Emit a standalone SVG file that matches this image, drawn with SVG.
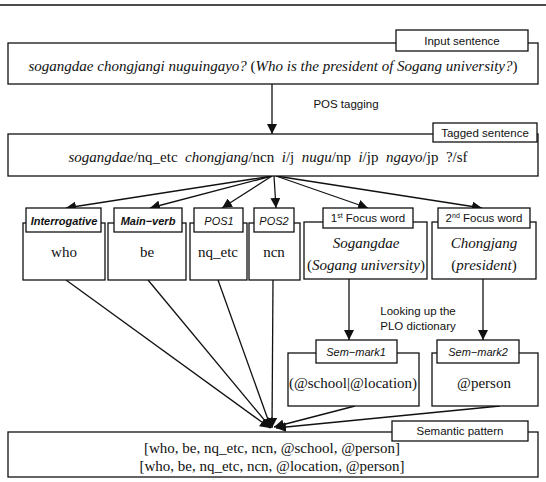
<svg xmlns="http://www.w3.org/2000/svg" width="546" height="482" viewBox="0 0 546 482">
<style>
.box{fill:#fff;stroke:#111;stroke-width:1.3}
.tab{fill:#fff;stroke:#111;stroke-width:1.3}
.ln{stroke:#111;stroke-width:1.3;fill:none}
.lab{font-family:"Liberation Sans",Arial,sans-serif;font-size:11.5px;fill:#111;text-anchor:middle}
.labi{font-family:"Liberation Sans",Arial,sans-serif;font-size:11px;font-style:italic;fill:#111;text-anchor:middle}
.b{font-weight:bold}
.ser{font-family:"Liberation Serif","Times New Roman",serif;font-size:15px;fill:#111;text-anchor:middle}
.it{font-style:italic}
.note{font-family:"Liberation Sans",Arial,sans-serif;font-size:11.5px;fill:#111;text-anchor:middle}
</style>
<defs>
<marker id="ah" viewBox="0 0 10 10" refX="10" refY="5" markerWidth="10" markerHeight="10" markerUnits="userSpaceOnUse" orient="auto">
<path d="M0,0 L10,5 L0,10 z" fill="#111"/>
</marker>
</defs>
<line x1="0" y1="5" x2="546" y2="5" stroke="#111" stroke-width="1.5"/>

<g id="connectors">
<line class="ln" x1="272" y1="84" x2="272" y2="134" marker-end="url(#ah)"/>
<line class="ln" x1="272" y1="176" x2="66" y2="208" marker-end="url(#ah)"/>
<line class="ln" x1="272" y1="176" x2="150" y2="208" marker-end="url(#ah)"/>
<line class="ln" x1="272" y1="176" x2="222" y2="208" marker-end="url(#ah)"/>
<line class="ln" x1="274" y1="176" x2="276" y2="208" marker-end="url(#ah)"/>
<line class="ln" x1="276" y1="176" x2="368" y2="208" marker-end="url(#ah)"/>
<line class="ln" x1="276" y1="176" x2="482" y2="208" marker-end="url(#ah)"/>
<line class="ln" x1="349" y1="279" x2="349" y2="340" marker-end="url(#ah)"/>
<line class="ln" x1="483" y1="279" x2="483" y2="340" marker-end="url(#ah)"/>
<line class="ln" x1="66" y1="280" x2="270" y2="428" marker-end="url(#ah)"/>
<line class="ln" x1="148" y1="280" x2="271" y2="428" marker-end="url(#ah)"/>
<line class="ln" x1="218" y1="280" x2="271" y2="428" marker-end="url(#ah)"/>
<line class="ln" x1="273" y1="280" x2="272" y2="428" marker-end="url(#ah)"/>
<line class="ln" x1="355" y1="406" x2="274" y2="427" marker-end="url(#ah)"/>
<line class="ln" x1="500" y1="406" x2="276" y2="428" marker-end="url(#ah)"/>
<text class="note" x="346" y="108">POS tagging</text>
<text class="note" x="418" y="315">Looking up the</text>
<text class="note" x="418" y="330">PLO dictionary</text>
</g>

<g id="input">
<rect class="box" x="8" y="43" width="530" height="41"/>
<rect class="tab" x="396" y="30" width="132" height="21"/>
<text class="lab" x="462" y="45">Input sentence</text>
<text class="ser" x="273" y="71" font-size="14.9"><tspan class="it">sogangdae chongjangi nuguingayo?</tspan> (<tspan class="it">Who is the president of Sogang university?</tspan>)</text>
</g>

<g id="tagged">
<rect class="box" x="8" y="134" width="530" height="42"/>
<rect class="tab" x="433" y="123" width="104" height="19"/>
<text class="lab" x="485" y="137" font-size="11">Tagged sentence</text>
<text class="ser" x="268" y="162" font-size="13" xml:space="preserve"><tspan class="it">sogangdae</tspan>/nq_etc  <tspan class="it">chongjang</tspan>/ncn  <tspan class="it">i</tspan>/j  <tspan class="it">nugu</tspan>/np  <tspan class="it">i</tspan>/jp  <tspan class="it">ngayo</tspan>/jp  ?/sf</text>
</g>

<g id="interrogative">
<rect class="box" x="23" y="223" width="82" height="57"/>
<rect class="tab" x="26" y="208" width="75" height="24"/>
<text class="labi b" x="64" y="225" font-size="10">Interrogative</text>
<text class="ser" x="64" y="257">who</text>
</g>

<g id="mainverb">
<rect class="box" x="108" y="223" width="78" height="57"/>
<rect class="tab" x="114" y="208" width="68" height="24"/>
<text class="labi b" x="148" y="225" font-size="10">Main−verb</text>
<text class="ser" x="147" y="257">be</text>
</g>

<g id="pos1">
<rect class="box" x="190" y="223" width="57" height="57"/>
<rect class="tab" x="194" y="208" width="49" height="24"/>
<text class="labi" x="219" y="225">POS1</text>
<text class="ser" x="218" y="257">nq_etc</text>
</g>

<g id="pos2">
<rect class="box" x="249" y="223" width="51" height="57"/>
<rect class="tab" x="254" y="208" width="40" height="24"/>
<text class="labi" x="274" y="225">POS2</text>
<text class="ser" x="274" y="257">ncn</text>
</g>

<g id="focus1">
<rect class="box" x="304" y="222" width="123" height="57"/>
<rect class="tab" x="323" y="208" width="90" height="20"/>
<text class="lab" x="368" y="222" font-size="10.5">1<tspan font-size="7" dy="-4">st</tspan><tspan dy="4"> Focus word</tspan></text>
<text class="ser it" x="366" y="248" font-size="16">Sogangdae</text>
<text class="ser" x="366" y="270" font-size="15.5">(<tspan class="it">Sogang university</tspan>)</text>
</g>

<g id="focus2">
<rect class="box" x="432" y="222" width="104" height="57"/>
<rect class="tab" x="438" y="208" width="92" height="20"/>
<text class="lab" x="484" y="222" font-size="10.5">2<tspan font-size="7" dy="-4">nd</tspan><tspan dy="4"> Focus word</tspan></text>
<text class="ser it" x="484" y="248" font-size="16">Chongjang</text>
<text class="ser" x="484" y="270" font-size="15.5">(<tspan class="it">president</tspan>)</text>
</g>

<g id="semmark1">
<rect class="box" x="288" y="353" width="131" height="53"/>
<rect class="tab" x="316" y="340" width="81" height="23"/>
<text class="labi" x="356" y="356">Sem−mark1</text>
<text class="ser" x="353" y="388" font-size="14">(@school|@location)</text>
</g>

<g id="semmark2">
<rect class="box" x="432" y="353" width="106" height="53"/>
<rect class="tab" x="437" y="340" width="82" height="23"/>
<text class="labi" x="478" y="356">Sem−mark2</text>
<text class="ser" x="484" y="388" font-size="14">@person</text>
</g>

<g id="semantic">
<rect class="box" x="8" y="432" width="530" height="45"/>
<rect class="tab" x="392" y="421" width="136" height="20"/>
<text class="lab" x="460" y="435">Semantic pattern</text>
<text class="ser" x="272" y="453" font-size="13.5">[who, be, nq_etc, ncn, @school, @person]</text>
<text class="ser" x="272" y="471" font-size="13.5">[who, be, nq_etc, ncn, @location, @person]</text>
</g>
</svg>
